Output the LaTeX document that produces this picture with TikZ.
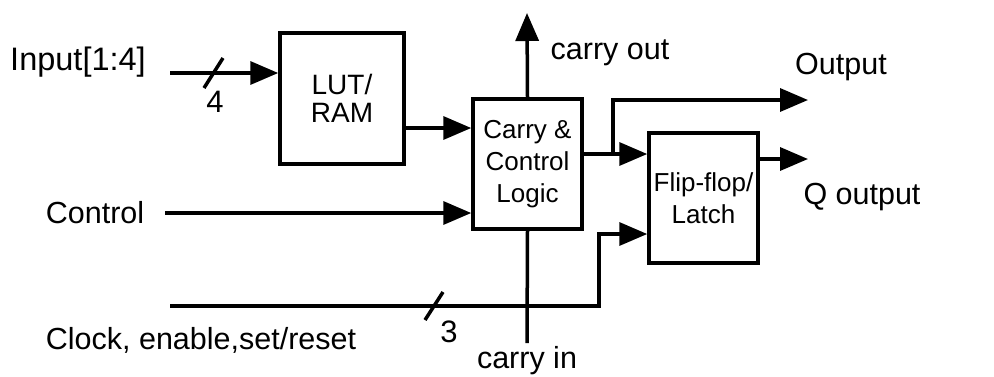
\documentclass[tikz,border=0pt]{standalone}
\usepackage{fontspec}
\setmainfont{Liberation Sans}
\usetikzlibrary{arrows.meta}
\begin{document}
\begin{tikzpicture}[x=1pt,y=-1pt,
  wire/.style={line width=3.5pt},
  arr/.style={wire,-{Triangle[length=28pt,width=23pt]}},
  blk/.style={draw,line width=3.5pt,inner sep=0pt,align=center,font=\fontsize{26}{32}\selectfont},
  lbl/.style={inner sep=0pt,font=\fontsize{30.5}{34}\selectfont},
  num/.style={inner sep=0pt,font=\fontsize{31}{32}\selectfont}]
\path[use as bounding box,fill=white] (0,0) rectangle (994,376);
% blocks
\node[blk,minimum width=124pt,minimum height=131pt,font=\fontsize{28}{28}\selectfont] (lut) at (342,98.5) {LUT/\\RAM};
\node[blk,minimum width=109pt,minimum height=130pt] (ccl) at (527.5,164) {Carry \&\\Control\\Logic};
\node[blk,minimum width=109pt,minimum height=130pt] (ff) at (703.5,198) {Flip-flop/\\Latch};
% labels
\node[lbl,font=\fontsize{32.5}{34}\selectfont] (tin) at (78,62) {Input[1:4]};
\node[lbl] (tctl) at (95,213) {Control};
\node[lbl] (tclk) at (201,340) {Clock, enable,set/reset};
\node[lbl] (tco) at (610,53) {carry out};
\node[lbl] (tout) at (841,67) {Output};
\node[lbl] (tq) at (862,197) {Q output};
\node[lbl] (tci) at (527,361) {carry in};
\node[num] (n4) at (215,102) {4};
\node[num] (n3) at (449,332) {3};
% coordinates
\coordinate (inS) at (170,73);
\coordinate (s4a) at (204,88);
\coordinate (s4b) at (223,58);
\coordinate (lo) at (404,128);
\coordinate (ctlS) at (165,213);
\coordinate (co) at (527,13);
\coordinate (cco) at (582,154);
\coordinate (br) at (613,154);
\coordinate (brT) at (613,100);
\coordinate (outE) at (808,100);
\coordinate (qS) at (758,159);
\coordinate (qE) at (808,159);
\coordinate (clkS) at (170,306);
\coordinate (clkB) at (599,306);
\coordinate (clkT) at (599,234);
\coordinate (s3a) at (425,320);
\coordinate (s3b) at (443,292);
\coordinate (ci) at (527,343);
% connectors
\draw[arr] (inS) -- (inS -| lut.west);
\draw[wire] (s4a) -- (s4b);
\draw[arr] (lo) -- (lo -| ccl.west);
\draw[arr] (ctlS) -- (ctlS -| ccl.west);
\draw[arr] (ccl.north) -- (co);
\draw[arr] (cco) -- (cco -| ff.west);
\draw[arr] (br) -- (brT) -- (outE);
\draw[arr] (qS) -- (qE);
\draw[arr] (clkS) -- (clkB) -- (clkT) -- (clkT -| ff.west);
\draw[wire] (s3a) -- (s3b);
\draw[wire] (ccl.south) -- (ci);
\end{tikzpicture}
\end{document}
